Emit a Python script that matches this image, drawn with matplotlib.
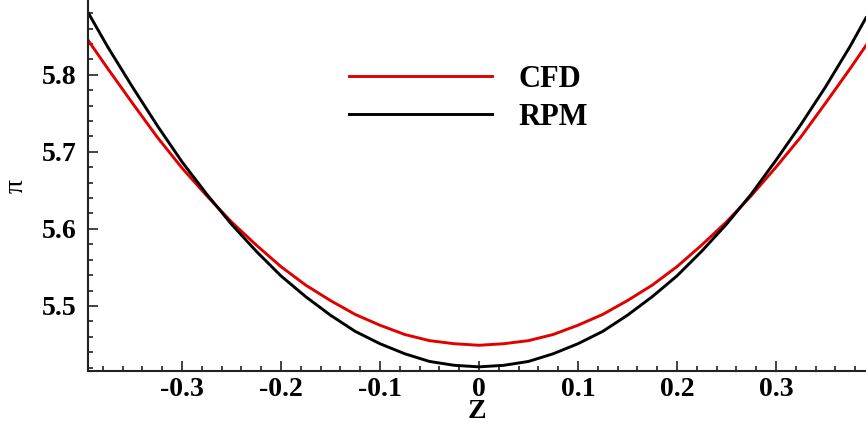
import matplotlib
matplotlib.use("Agg")
import matplotlib.pyplot as plt
from matplotlib.ticker import AutoMinorLocator, FuncFormatter, MultipleLocator

plt.rcParams['font.family'] = ['Liberation Serif', 'DejaVu Serif']
plt.rcParams['axes.unicode_minus'] = False

# values
z = [-0.395, -0.375, -0.35, -0.325, -0.30, -0.275, -0.25, -0.225, -0.20,
     -0.175, -0.15, -0.125, -0.10, -0.075, -0.05, -0.025, 0.0,
     0.025, 0.05, 0.075, 0.10, 0.125, 0.15, 0.175, 0.20,
     0.225, 0.25, 0.275, 0.30, 0.325, 0.35, 0.375, 0.391]
pi_cfd = [5.845, 5.808, 5.763, 5.719, 5.679, 5.643, 5.609, 5.579, 5.551,
          5.527, 5.507, 5.489, 5.475, 5.463, 5.455, 5.451, 5.449,
          5.451, 5.455, 5.463, 5.475, 5.489, 5.507, 5.527, 5.551,
          5.579, 5.609, 5.643, 5.680, 5.719, 5.763, 5.808, 5.838]
pi_rpm = [5.881, 5.836, 5.784, 5.734, 5.687, 5.645, 5.606, 5.571, 5.539,
          5.512, 5.488, 5.467, 5.451, 5.438, 5.428, 5.423, 5.421,
          5.423, 5.428, 5.438, 5.451, 5.467, 5.488, 5.512, 5.539,
          5.571, 5.606, 5.645, 5.689, 5.735, 5.784, 5.837, 5.874]

fig = plt.figure(figsize=(8.66, 4.23), dpi=100)
ax = fig.add_axes([0.1016, 0.1229, 0.8984, 0.8771])

ax.plot(z, pi_cfd, color='#e00000', lw=2.1, label='CFD')
ax.plot(z, pi_rpm, color='black', lw=2.1, label='RPM')

ax.set_xlim(-0.395, 0.391)
ax.set_ylim(5.4156, 5.897)

ax.xaxis.set_major_locator(MultipleLocator(0.1))
ax.yaxis.set_major_locator(MultipleLocator(0.1))
ax.xaxis.set_minor_locator(AutoMinorLocator(5))
ax.yaxis.set_minor_locator(AutoMinorLocator(5))
ax.xaxis.set_major_formatter(FuncFormatter(lambda v, p: '%g' % round(v, 2)))
ax.yaxis.set_major_formatter(FuncFormatter(lambda v, p: '%g' % round(v, 2)))

for s in ['top', 'right']:
    ax.spines[s].set_visible(False)
for s in ['left', 'bottom']:
    ax.spines[s].set_linewidth(1.5)
    ax.spines[s].set_color('#222222')

ax.tick_params(which='both', direction='in', width=1.2, color='#222222')
ax.tick_params(which='major', length=7)
ax.tick_params(which='minor', length=3.5)
ax.tick_params(axis='x', which='major', pad=4)
ax.tick_params(axis='y', which='major', pad=8)
for lab in ax.get_xticklabels() + ax.get_yticklabels():
    lab.set_fontsize(20)
    lab.set_fontweight('bold')

ax.set_xlabel('Z', fontsize=20, fontweight='bold', labelpad=-1.5)
ax.set_ylabel('π', fontsize=20, labelpad=10)

ax.legend(loc='upper left', bbox_to_anchor=(0.371, 0.912), bbox_transform=fig.transFigure,
          frameon=False, handlelength=4.7, handletextpad=0.85, labelspacing=0.3,
          prop={'size': 22, 'weight': 'bold'})

fig.savefig('out.png', dpi=100)
